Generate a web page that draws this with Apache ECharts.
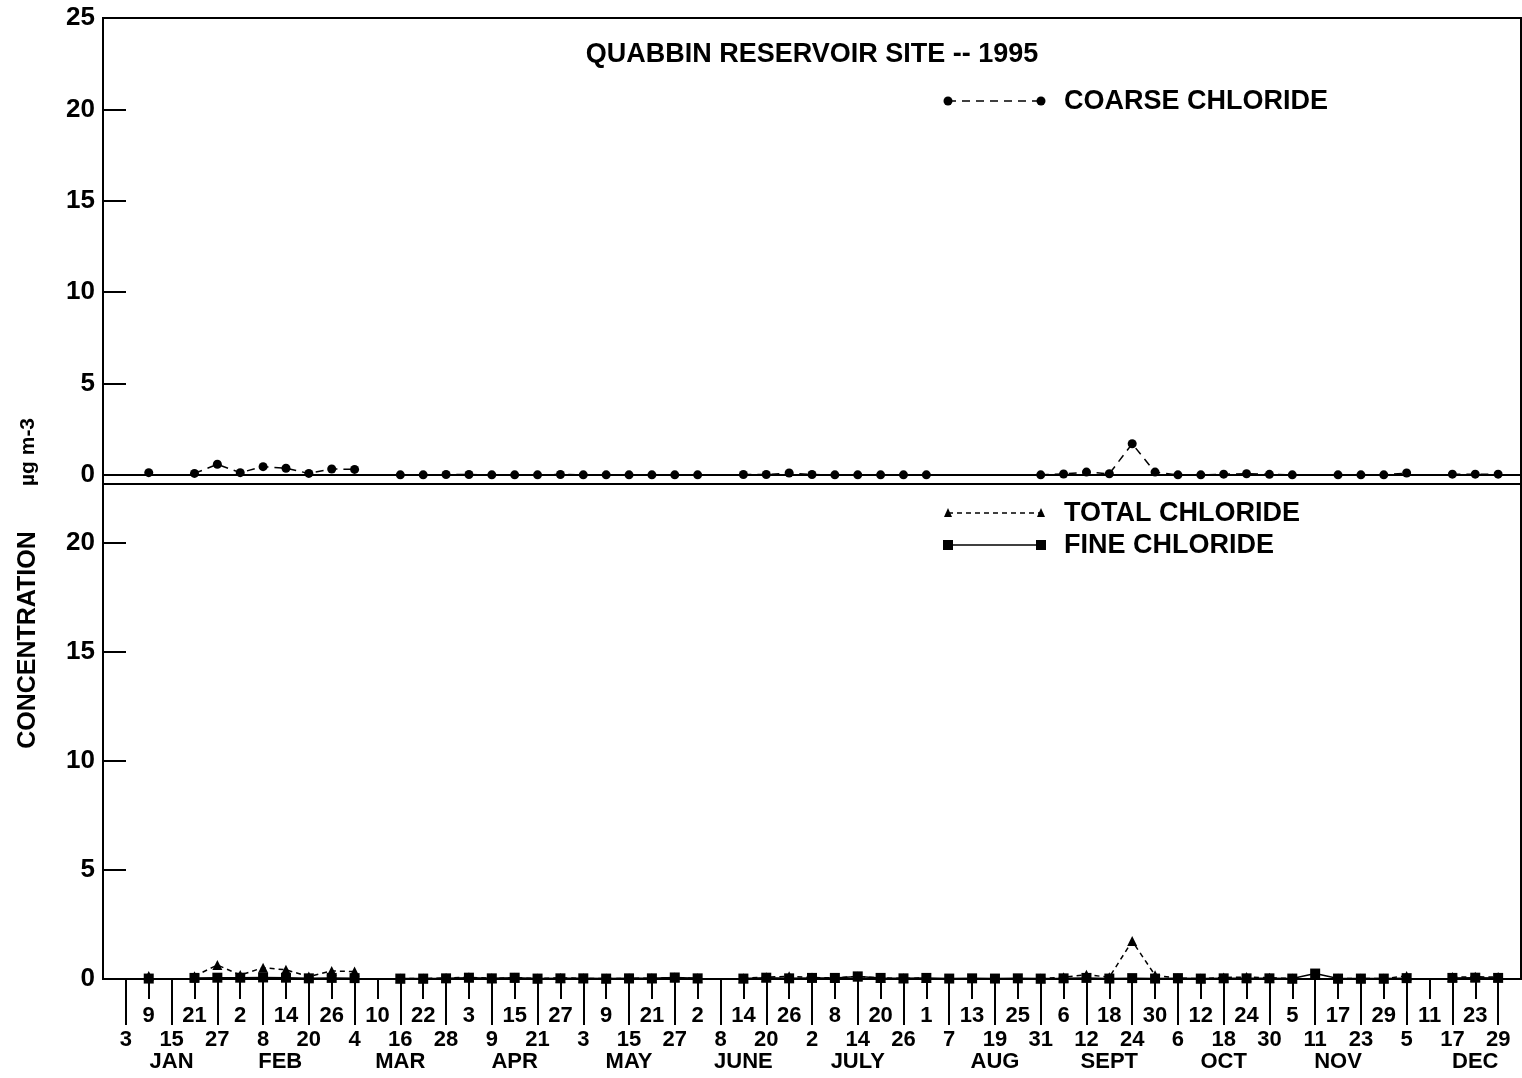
<!DOCTYPE html>
<html>
<head>
<meta charset="utf-8">
<script src="https://cdn.jsdelivr.net/npm/echarts@6/dist/echarts.min.js"></script>
<style>
html,body{margin:0;padding:0;background:#fff;}
#chart{width:1522px;height:1078px;}
</style>
</head>
<body>
<div id="chart"></div>
<script>
// ---- DATA ----
const sampleDay = ['3','9','15','21','27','2','8','14','20','26','4','10','16','22','28','3','9','15','21','27',
  '3','9','15','21','27','2','8','14','20','26','2','8','14','20','26','1','7','13','19','25',
  '31','6','12','18','24','30','6','12','18','24','30','5','11','17','23','29','5','11','17','23','29'];
const monthNames = ['JAN','FEB','MAR','APR','MAY','JUNE','JULY','AUG','SEPT','OCT','NOV','DEC'];
const monthTickAt = [2, 6.75, 12, 17, 22, 27, 32, 38, 43, 48, 53, 59];

const coarse = [null,0.12,null,0.08,0.58,0.12,0.45,0.36,0.08,0.32,
  0.30,null,0.00,0.00,0.02,0.02,0.00,0.00,0.00,0.02,
  0.00,0.00,0.00,0.00,0.00,0.00,null,0.02,0.02,0.10,
  0.02,0.00,0.00,0.00,0.00,0.00,null,null,null,null,
  0.00,0.05,0.15,0.06,1.70,0.15,0.00,0.00,0.04,0.06,
  0.03,0.00,null,0.00,0.00,0.00,0.10,null,0.04,0.04,0.04];
const total = [null,0.14,null,0.13,0.64,0.18,0.52,0.42,0.11,0.37,
  0.34,null,0.02,0.02,0.05,0.08,0.03,0.06,0.02,0.05,
  0.03,0.02,0.03,0.03,0.07,0.03,null,0.04,0.08,0.13,
  0.07,0.05,0.12,0.05,0.03,0.05,null,null,null,null,
  0.02,0.08,0.20,0.08,1.74,0.17,0.04,0.02,0.07,0.09,
  0.06,0.02,null,0.02,0.02,0.02,0.14,null,0.09,0.10,0.09];
const fine = [null,0.02,null,0.05,0.06,0.06,0.07,0.06,0.03,0.05,
  0.04,null,0.02,0.02,0.03,0.06,0.03,0.06,0.02,0.03,
  0.03,0.02,0.03,0.03,0.07,0.03,null,0.02,0.06,0.03,
  0.05,0.05,0.12,0.05,0.03,0.05,0.02,0.03,0.02,0.03,
  0.02,0.03,0.05,0.02,0.04,0.02,0.04,0.02,0.03,0.03,
  0.03,0.02,0.25,0.02,0.02,0.02,0.04,null,0.05,0.06,0.05];

const topTicks = [0,5,10,15,20,25];
const bottomTicks = [0,5,10,15,20];

// ---- BUILD ----
const FONT = "'Liberation Sans', Arial, Helvetica, sans-serif";
const BLACK = '#000';
const oddIdx = sampleDay.map((d,i)=>i).filter(i=>i%2===1);
const evenIdx = sampleDay.map((d,i)=>i).filter(i=>i%2===0);
const pairs = arr => arr.map((v,i)=> v===null ? [i,'-'] : [i,v]);
const axLine = {color:BLACK, width:2};
const lbl = (size)=>({color:BLACK, fontSize:size, fontWeight:'bold', fontFamily:FONT});

const chart = echarts.init(document.getElementById('chart'), null, {renderer:'canvas'});
const option = {
  backgroundColor:'#fff',
  animation:false,
  title:{
    text:'QUABBIN RESERVOIR SITE -- 1995',
    left:812, top:41, textAlign:'center', padding:0,
    textStyle:lbl(27)
  },
  legend:[
    {
      data:[{name:'COARSE CHLORIDE', icon:'none'}],
      left:948, top:88, padding:0, itemWidth:111, itemHeight:27,
      selectedMode:false,
      itemStyle:{opacity:0}, lineStyle:{opacity:0},
      textStyle:lbl(27)
    },
    {
      data:[{name:'TOTAL CHLORIDE', icon:'none'},{name:'FINE CHLORIDE', icon:'none'}],
      orient:'vertical',
      left:948, top:500, padding:0, itemWidth:111, itemHeight:27, itemGap:5,
      selectedMode:false,
      itemStyle:{opacity:0}, lineStyle:{opacity:0},
      textStyle:lbl(27)
    }
  ],
  grid:[
    {left:103, top:18, width:1418, height:466, show:true, borderColor:BLACK, borderWidth:2},
    {left:103, top:484, width:1418, height:495, show:true, borderColor:BLACK, borderWidth:2}
  ],
  xAxis:[
    {gridIndex:0, type:'value', min:-1, max:61,
      axisLine:{show:true, onZero:true, lineStyle:axLine},
      axisTick:{show:false}, axisLabel:{show:false}, splitLine:{show:false}},
    {gridIndex:1, type:'value', min:-1, max:61, position:'bottom', offset:0,
      axisLine:{show:true, onZero:false, lineStyle:axLine},
      axisTick:{show:true, inside:false, length:20, customValues:oddIdx, lineStyle:axLine},
      axisLabel:Object.assign({show:true, margin:26, customValues:oddIdx,
        formatter:v=>sampleDay[Math.round(v)]}, lbl(22)),
      splitLine:{show:false}},
    {gridIndex:1, type:'value', min:-1, max:61, position:'bottom', offset:0,
      axisLine:{show:false},
      axisTick:{show:true, inside:false, length:46, customValues:evenIdx, lineStyle:axLine},
      axisLabel:Object.assign({show:true, margin:50, customValues:evenIdx,
        formatter:v=>sampleDay[Math.round(v)]}, lbl(22)),
      splitLine:{show:false}},
    {gridIndex:1, type:'value', min:-1, max:61, position:'bottom', offset:0,
      axisLine:{show:false}, axisTick:{show:false},
      axisLabel:Object.assign({show:true, margin:72, customValues:monthTickAt,
        formatter:v=>monthNames[monthTickAt.indexOf(v)]}, lbl(22)),
      splitLine:{show:false}}
  ],
  yAxis:[
    {gridIndex:0, type:'value', min:-0.5, max:25,
      axisLine:{show:true, onZero:false, lineStyle:axLine},
      axisTick:{show:true, inside:true, length:23, customValues:topTicks, lineStyle:axLine},
      axisLabel:Object.assign({margin:8, customValues:topTicks}, lbl(26)),
      splitLine:{show:false}},
    {gridIndex:1, type:'value', min:0, max:22.7,
      axisLine:{show:true, onZero:false, lineStyle:axLine},
      axisTick:{show:true, inside:true, length:23, customValues:bottomTicks, lineStyle:axLine},
      axisLabel:Object.assign({margin:8, customValues:bottomTicks}, lbl(26)),
      splitLine:{show:false}}
  ],
  graphic:[
    {type:'text', x:28, y:640, rotation:Math.PI/2,
      style:{text:'CONCENTRATION', fill:BLACK, font:"bold 25px "+FONT, textAlign:'center', textVerticalAlign:'middle'}},
    {type:'text', x:28, y:452, rotation:Math.PI/2,
      style:{text:'\u00b5g m-3', fill:BLACK, font:"bold 21px "+FONT, textAlign:'center', textVerticalAlign:'middle'}},
    // legend keys
    {type:'line', shape:{x1:948,y1:101,x2:1041,y2:101}, style:{stroke:BLACK, lineWidth:1.5, lineDash:[8,6]}},
    {type:'circle', shape:{cx:948,cy:101,r:4.5}, style:{fill:BLACK}},
    {type:'circle', shape:{cx:1041,cy:101,r:4.5}, style:{fill:BLACK}},
    {type:'line', shape:{x1:948,y1:513,x2:1041,y2:513}, style:{stroke:BLACK, lineWidth:1.5, lineDash:[5,4]}},
    {type:'polygon', shape:{points:[[948,508],[944,517],[952,517]]}, style:{fill:BLACK}},
    {type:'polygon', shape:{points:[[1041,508],[1037,517],[1045,517]]}, style:{fill:BLACK}},
    {type:'line', shape:{x1:948,y1:545,x2:1041,y2:545}, style:{stroke:BLACK, lineWidth:1.5}},
    {type:'rect', shape:{x:943,y:540,width:10,height:10}, style:{fill:BLACK}},
    {type:'rect', shape:{x:1036,y:540,width:10,height:10}, style:{fill:BLACK}}
  ],
  series:[
    {name:'COARSE CHLORIDE', type:'line', xAxisIndex:0, yAxisIndex:0,
      data:pairs(coarse), connectNulls:false,
      symbol:'circle', symbolSize:9, itemStyle:{color:BLACK},
      lineStyle:{color:BLACK, width:1.5, type:[8,6]}},
    {name:'TOTAL CHLORIDE', type:'line', xAxisIndex:1, yAxisIndex:1,
      data:pairs(total), connectNulls:false,
      symbol:'triangle', symbolSize:10, itemStyle:{color:BLACK},
      lineStyle:{color:BLACK, width:1.5, type:[5,4]}},
    {name:'FINE CHLORIDE', type:'line', xAxisIndex:1, yAxisIndex:1,
      data:pairs(fine), connectNulls:false,
      symbol:'rect', symbolSize:10, itemStyle:{color:BLACK},
      lineStyle:{color:BLACK, width:1.5, type:'solid'}}
  ]
};
chart.setOption(option);
</script>
</body>
</html>
